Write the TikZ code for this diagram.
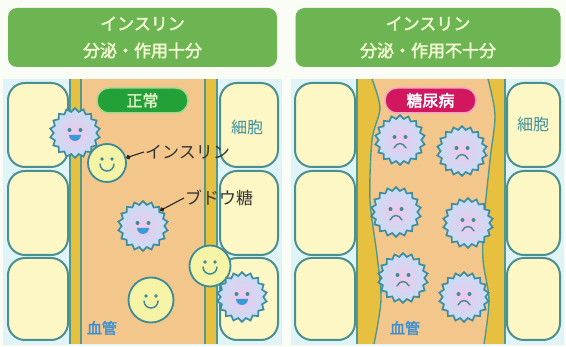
\documentclass[tikz,border=0pt]{standalone}
\usepackage{fontspec}
\newfontfamily\jp[AutoFakeBold=2.5]{Noto Sans CJK JP}
\usetikzlibrary{shapes.geometric,arrows.meta}

\definecolor{pagebg}{HTML}{FAFCF6}
\definecolor{headgreen}{HTML}{6CB552}
\definecolor{headtext}{HTML}{F1F8D2}
\definecolor{panelblue}{HTML}{E0F3F7}
\definecolor{cellfill}{HTML}{FDF7C6}
\definecolor{cellline}{HTML}{4B9090}
\definecolor{vesselcol}{HTML}{F3C68C}
\definecolor{wallcol}{HTML}{E8C040}
\definecolor{walledge}{HTML}{4F9A8C}
\definecolor{gluline}{HTML}{3D8EA3}
\definecolor{glupink}{HTML}{F0C8EC}
\definecolor{glublue}{HTML}{C4DEF5}
\definecolor{facecol}{HTML}{3B8C96}
\definecolor{mouthcol}{HTML}{3A9AD8}
\definecolor{insfill}{HTML}{F5F3A6}
\definecolor{okgreen}{HTML}{24A038}
\definecolor{okborder}{HTML}{A8D890}
\definecolor{oktext}{HTML}{E4F6C8}
\definecolor{ngmag}{HTML}{D3175F}
\definecolor{ngborder}{HTML}{F4A6C6}
\definecolor{celltext}{HTML}{3F8F9B}
\definecolor{bloodtext}{HTML}{3C8FD2}

\tikzset{
  headbox/.style={rounded corners=9pt, fill=headgreen, minimum width=#1, minimum height=59pt,
    align=center, text=headtext, inner sep=0pt,
    font={\jp\fontsize{17}{27}\selectfont\bfseries}},
  cellbox/.style={draw=cellline, fill=cellfill, line width=2pt, rounded corners=17pt},
  wallline/.style={draw=walledge, line width=1.4pt},
  pill/.style={rounded corners=12pt, minimum width=91pt, minimum height=25pt, inner sep=0pt,
    line width=1.5pt, font={\jp\fontsize{16}{16}\selectfont\bfseries}},
  glubody/.style={star, star points=18, star point ratio=1.17, minimum size=50pt, inner sep=0pt,
    draw=gluline, line width=1.7pt, inner color=glupink, outer color=glublue},
  happyglu/.pic={
    \node[glubody] (body) {};
    \fill[facecol] (-5.5,-3) circle (2) (5.5,-3) circle (2);
    \fill[mouthcol] (-6,2) arc[start angle=180, end angle=0, radius=6] -- cycle;
  },
  sadglu/.pic={
    \node[glubody] (body) {};
    \fill[facecol] (-5.5,-3) circle (2) (5.5,-3) circle (2);
    \draw[facecol, line width=1.4pt, line cap=round] (-6,8) .. controls (-3,2) and (3,2) .. (6,8);
  },
  insulin/.pic={
    \node[circle, draw=facecol, line width=1.8pt, fill=insfill, minimum size=#1pt, inner sep=0pt] (body) {};
    \fill[facecol] (-5,-4) circle (1.8) (5,-4) circle (1.8);
    \draw[facecol, line width=1.5pt, line cap=round] (-7,1) arc[start angle=180, end angle=0, radius=7];
  },
  celllabel/.style={text=celltext, font={\jp\fontsize{16}{16}\selectfont}},
  bloodlabel/.style={text=bloodtext, font={\jp\fontsize{15}{15}\selectfont\bfseries}},
  callout/.style={text=black!80, anchor=west, inner sep=1pt, font={\jp\fontsize{17}{17}\selectfont}},
  pointer/.style={draw=black!85, line width=1.1pt, -{Circle[length=4.5pt]}},
}

\begin{document}
\begin{tikzpicture}[x=1pt,y=-1pt]
\useasboundingbox (0,0) rectangle (566,347);
\fill[pagebg] (0,0) rectangle (566,347);

% headers
\node[headbox=269pt] (hdrL) at (142.5,37.5) {インスリン\\分泌・作用十分};
\node[headbox=265pt] (hdrR) at (428,37.5) {インスリン\\分泌・作用不十分};

% panel backgrounds
\fill[panelblue] (3,79) rectangle (282,345);
\fill[panelblue] (291,79) rectangle (564,345);

% ---------- left panel: normal ----------
\foreach \y/\yy in {83/167, 171/255, 258/340} {
  \draw[cellbox] (8,\y) rectangle (68,\yy);
  \draw[cellbox] (220,\y) rectangle (278,\yy);
}
\fill[vesselcol] (70,79) rectangle (217,344);
\fill[wallcol] (70,79) rectangle (81,344);
\fill[wallcol] (205,79) rectangle (217,344);
\foreach \x in {70,81,205,217} \draw[wallline] (\x,79) -- (\x,344);

\node[pill, fill=okgreen, draw=okborder, text=oktext] (okpill) at (142.5,100.5) {正常};
\node[celllabel] (cellL) at (247,127) {細胞};
\node[bloodlabel] (bloodL) at (102,328) {血管};

\pic (g1) at (75,133) {happyglu};
\pic (i1) at (107,163) {insulin=38};
\pic (g2) at (143,226) {happyglu};
\pic (i2) at (210,266) {insulin=41};
\pic (g3) at (242,297) {happyglu};
\pic (i3) at (151,300) {insulin=45};

\node[callout] (tIns) at (144,152) {インスリン};
\node[callout] (tGlu) at (184,198) {ブドウ糖};
\draw[pointer] (tIns.west) -- (i1body.15);
\draw[pointer] (tGlu.west) -- (g2body.42);

% ---------- right panel: diabetes ----------
\foreach \y/\yy in {83/167, 171/255, 258/340} {
  \draw[cellbox] (295,\y) rectangle (355,\yy);
  \draw[cellbox] (507,\y) rectangle (560,\yy);
}
\fill[wallcol] (357,79) rectangle (505,344);
\fill[vesselcol] plot[smooth] coordinates {(372,79) (380,108) (372,140) (370,200) (377,255) (381,300) (374,344)}
  -- plot[smooth] coordinates {(484,344) (489,300) (483,260) (484,220) (490,160) (495,115) (488,79)} -- cycle;
\draw[wallline] plot[smooth] coordinates {(372,79) (380,108) (372,140) (370,200) (377,255) (381,300) (374,344)};
\draw[wallline] plot[smooth] coordinates {(484,344) (489,300) (483,260) (484,220) (490,160) (495,115) (488,79)};
\draw[wallline] (357,79) -- (357,344);
\draw[wallline] (505,79) -- (505,344);

\node[pill, fill=ngmag, draw=ngborder, text=white] (ngpill) at (430.5,100.5) {糖尿病};
\node[celllabel] (cellR) at (533,124) {細胞};
\node[bloodlabel] (bloodR) at (405,328) {血管};

\pic (s1) at (400,140) {sadglu};
\pic (s2) at (462,151) {sadglu};
\pic (s3) at (396,212) {sadglu};
\pic (s4) at (468,223) {sadglu};
\pic (s5) at (403,278) {sadglu};
\pic (s6) at (464,297) {sadglu};
\end{tikzpicture}
\end{document}
